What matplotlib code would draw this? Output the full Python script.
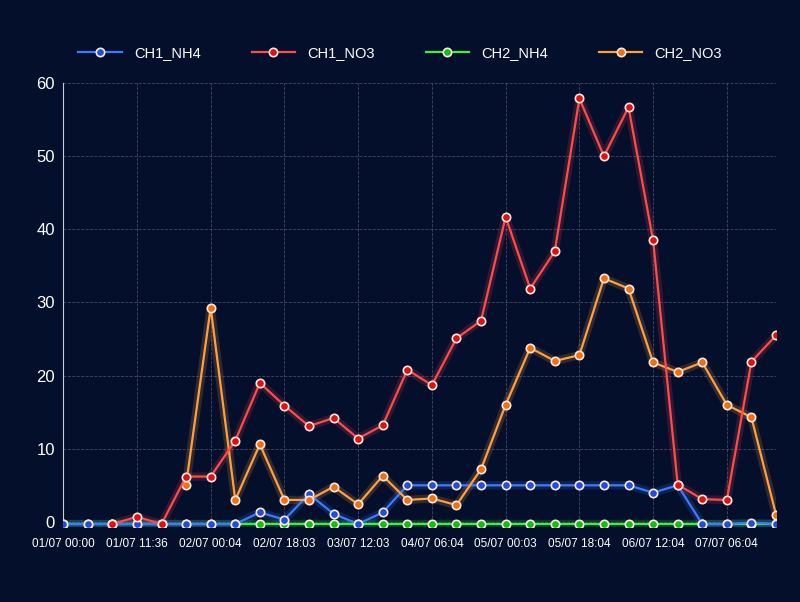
import matplotlib.pyplot as plt
import numpy as np

plt.rcParams['font.family'] = ['Liberation Sans', 'DejaVu Sans']

nan = np.nan
tick_idx = [0, 3, 6, 9, 12, 15, 18, 21, 24, 27]
tick_labels = ['01/07 00:00', '01/07 11:36', '02/07 00:04', '02/07 18:03', '03/07 12:03',
               '04/07 06:04', '05/07 00:03', '05/07 18:04', '06/07 12:04', '07/07 06:04']

ch1_nh4 = [-0.3, -0.3, -0.3, -0.3, -0.3, -0.3, -0.3, -0.3, 1.3, 0.3, 3.8, 1.1, -0.3, 1.3, 5.0,
           5.0, 5.0, 5.0, 5.0, 5.0, 5.0, 5.0, 5.0, 5.0, 4.0, 5.0, -0.3, -0.3, -0.1, -0.3]
ch1_no3 = [nan, nan, -0.3, 0.7, -0.3, 6.2, 6.2, 11.1, 19.0, 15.9, 13.1, 14.2, 11.4, 13.2, 20.8,
           18.7, 25.1, 27.5, 41.7, 31.9, 37.0, 57.9, 50.0, 56.7, 38.5, 5.1, 3.1, 3.0, 21.9, 25.5]
ch2_nh4 = [-0.3] * 30
ch2_no3 = [nan, nan, nan, nan, nan, 5.1, 29.3, 3.0, 10.6, 3.0, 3.0, 4.8, 2.4, 6.3, 3.0,
           3.2, 2.3, 7.2, 16.0, 23.8, 22.0, 22.8, 33.3, 31.9, 21.8, 20.5, 21.8, 16.0, 14.3, 1.0]

series = [('CH1_NH4', ch1_nh4, '#3b7bff', '#1f4fd8'),
          ('CH1_NO3', ch1_no3, '#ff4b4b', '#e01010'),
          ('CH2_NH4', ch2_nh4, '#3cf03c', '#10c010'),
          ('CH2_NO3', ch2_no3, '#ffa040', '#f07010')]

bg = '#030f2b'
fig = plt.figure(figsize=(8, 6.02), dpi=100, facecolor=bg)
ax = fig.add_axes([0.079, 0.1246, 0.891, 0.7374], facecolor=bg)
x = np.arange(30)

draw_order = [2, 0, 3, 1]
handles = {}
for i in draw_order:
    name, y, col, dark = series[i]
    ax.plot(x, y, color=col, lw=6, alpha=0.18, zorder=2)
    h, = ax.plot(x, y, color=col, lw=1.6, marker='o', ms=6, mfc=dark, mec='#ffe8e0',
                 mew=1.2, zorder=3, label=name)
    handles[i] = h

ax.set_xlim(0, 29)
ax.set_ylim(-0.7, 60)
ax.set_yticks([0, 10, 20, 30, 40, 50, 60])
ax.set_xticks(tick_idx)
ax.set_xticklabels(tick_labels)
ax.tick_params(colors='white', labelsize=8.5, length=0, pad=8)
ax.tick_params(axis='y', labelsize=12, pad=6)
ax.grid(True, color='#5a6478', ls='--', lw=0.6, alpha=0.7)
for s in ['top', 'right', 'bottom']:
    ax.spines[s].set_visible(False)
ax.spines['left'].set_color('#c8ccd4')

fig.legend([handles[i] for i in range(4)], [s[0] for s in series], loc='upper center',
           bbox_to_anchor=(0.5, 0.945), ncol=4, frameon=False, labelcolor='white',
           fontsize=10.5, handlelength=3, columnspacing=3.5)

fig.savefig('out.png', facecolor=bg)
